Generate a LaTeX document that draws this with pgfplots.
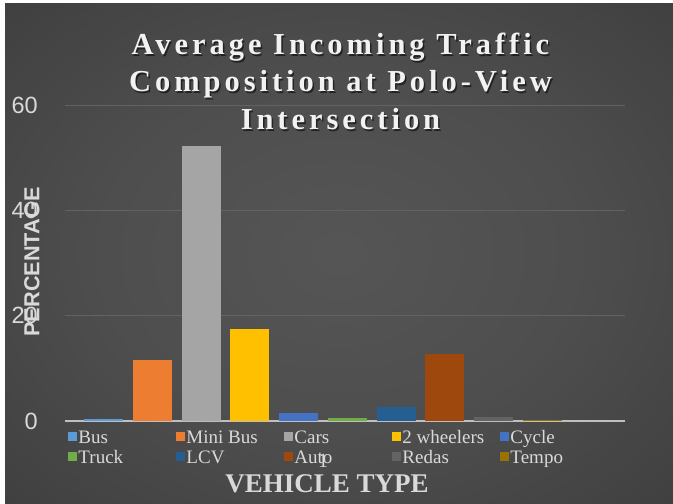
\documentclass[border=0pt]{standalone}
\usepackage{fontspec}
\setmainfont{Liberation Serif}
\setsansfont{Liberation Sans}
\usepackage{pgfplots}
\pgfplotsset{compat=1.18}
\definecolor{gridc}{HTML}{626262}
\definecolor{basec}{HTML}{BFBFBF}
\definecolor{txt}{HTML}{D9D9D9}
\definecolor{cBus}{HTML}{5B9BD5}
\definecolor{cMini}{HTML}{ED7D31}
\definecolor{cCars}{HTML}{A5A5A5}
\definecolor{cTwo}{HTML}{FFC000}
\definecolor{cCycle}{HTML}{4472C4}
\definecolor{cTruck}{HTML}{70AD47}
\definecolor{cLCV}{HTML}{255E91}
\definecolor{cAuto}{HTML}{9E480E}
\definecolor{cRedas}{HTML}{636363}
\definecolor{cTempo}{HTML}{997300}
\pgfdeclareradialshading{bgshade}{\pgfpoint{0bp}{0bp}}{rgb(0bp)=(0.335,0.335,0.335); rgb(18bp)=(0.305,0.305,0.305); rgb(50bp)=(0.205,0.205,0.205); rgb(71bp)=(0.17,0.17,0.17); rgb(100bp)=(0.17,0.17,0.17)}
\newcommand{\legbox}[1]{\makebox[96pt][l]{\strut #1}}
\begin{document}
\begin{tikzpicture}
\useasboundingbox (0pt,0pt) rectangle (673pt,504pt);
\fill[white] (0pt,0pt) rectangle (673pt,504pt);
\shade[shading=bgshade] (5pt,0pt) rectangle (673pt,500pt);
\begin{axis}[
  at={(65pt,83pt)}, anchor=south west,
  width=560pt, height=316pt, scale only axis,
  xmin=0, xmax=2.1705, ymin=0, ymax=60,
  ybar=9.7pt, bar width=39pt,
  xtick={1}, ytick={0,20,40,60},
  ymajorgrids, grid style={color=gridc, line width=0.8pt},
  axis x line*=bottom, axis y line*=left,
  y axis line style={draw=none},
  x axis line style={draw=basec, line width=2.2pt, -},
  major tick length=0pt,
  /pgf/number format/assume math mode=true,
  yticklabel style={font=\sffamily\fontsize{23.5}{28}\selectfont, text=txt, inner sep=0pt, anchor=east, xshift=-27pt},
  xticklabel style={font=\fontsize{20}{22}\selectfont, text=txt, anchor=center, yshift=-40pt},
  ylabel={PERCENTAGE},
  ylabel style={font=\sffamily\bfseries\fontsize{21.7}{24}\selectfont, text=txt, at={(axis description cs:-0.0589,0.503)}, anchor=center},
  xlabel={VEHICLE TYPE},
  xlabel style={font=\bfseries\fontsize{27}{30}\selectfont, text=txt, at={(axis description cs:0.468,-0.2278)}, anchor=base},
  legend columns=5,
  legend image code/.code={\fill[#1] (0pt,-4.5pt) rectangle (9pt,4.5pt);},
  legend style={at={(axis description cs:0,0)}, anchor=north west, yshift=-6pt, xshift=3pt,
    draw=none, fill=none, inner sep=0pt, outer sep=0pt, row sep=0pt,
    font=\fontsize{19}{21.5}\selectfont, text=txt,
    nodes={inner sep=1.5pt},
    /tikz/every even column/.append style={column sep=0pt}},
]
\addplot[fill=cBus, draw=none] coordinates {(1,0.3)};
\addplot[fill=cMini, draw=none] coordinates {(1,11.5)};
\addplot[fill=cCars, draw=none] coordinates {(1,52.2)};
\addplot[fill=cTwo, draw=none] coordinates {(1,17.5)};
\addplot[fill=cCycle, draw=none] coordinates {(1,1.6)};
\addplot[fill=cTruck, draw=none] coordinates {(1,0.5)};
\addplot[fill=cLCV, draw=none] coordinates {(1,2.7)};
\addplot[fill=cAuto, draw=none] coordinates {(1,12.7)};
\addplot[fill=cRedas, draw=none] coordinates {(1,0.8)};
\addplot[fill=cTempo, draw=none] coordinates {(1,0.2)};
\legend{\legbox{Bus},\legbox{Mini Bus},\legbox{Cars},\legbox{2 wheelers},\legbox{Cycle},\legbox{Truck},\legbox{LCV},\legbox{Auto},\legbox{Redas},\legbox{Tempo}}
\end{axis}
\begin{scope}[every node/.style={font=\bfseries\addfontfeature{LetterSpace=13}\fontsize{30.5}{36}\selectfont, anchor=base}]
\node[text=black, opacity=0.55] at (342pt,447.5pt) {Average Incoming Traffic};
\node[text=black, opacity=0.55] at (342pt,410.5pt) {Composition at Polo-View};
\node[text=black, opacity=0.55] at (342pt,372.5pt) {Intersection};
\node[text=white!95!black] at (340.5pt,449pt) {Average Incoming Traffic};
\node[text=white!95!black] at (340.5pt,412pt) {Composition at Polo-View};
\node[text=white!95!black] at (340.5pt,374pt) {Intersection};
\end{scope}
\end{tikzpicture}
\end{document}
